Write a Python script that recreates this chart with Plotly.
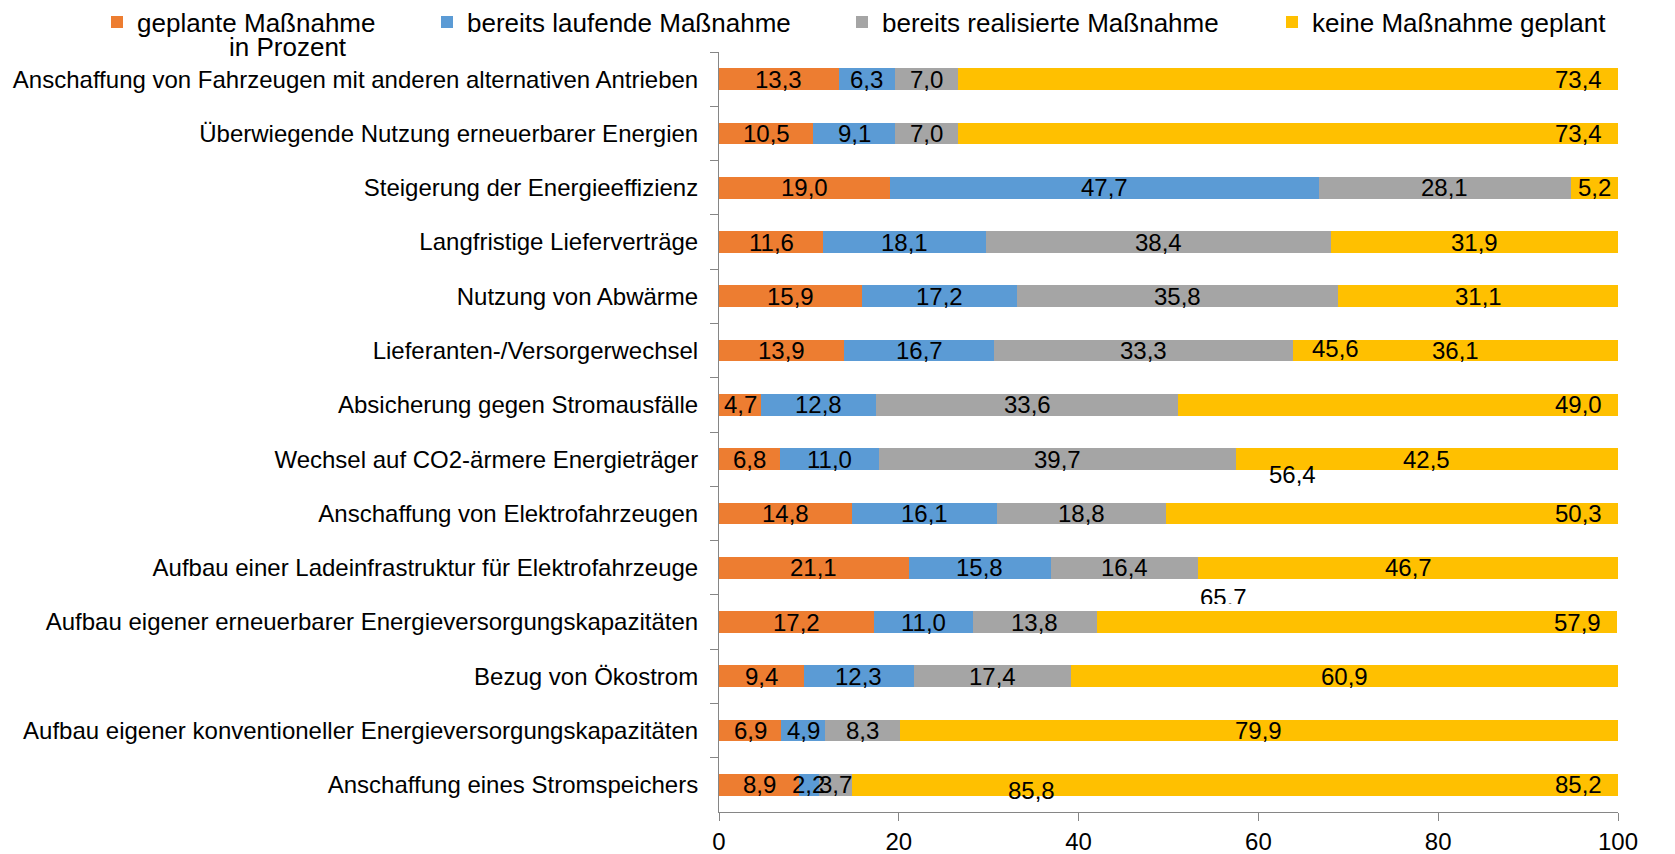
import plotly.graph_objects as go

categories = [
    "Anschaffung von Fahrzeugen mit anderen alternativen Antrieben",
    "Überwiegende Nutzung erneuerbarer Energien",
    "Steigerung der Energieeffizienz",
    "Langfristige Lieferverträge",
    "Nutzung von Abwärme",
    "Lieferanten-/Versorgerwechsel",
    "Absicherung gegen Stromausfälle",
    "Wechsel auf CO2-ärmere Energieträger",
    "Anschaffung von Elektrofahrzeugen",
    "Aufbau einer Ladeinfrastruktur für Elektrofahrzeuge",
    "Aufbau eigener erneuerbarer Energieversorgungskapazitäten",
    "Bezug von Ökostrom",
    "Aufbau eigener konventioneller Energieversorgungskapazitäten",
    "Anschaffung eines Stromspeichers",
]
geplant = [13.3, 10.5, 19.0, 11.6, 15.9, 13.9, 4.7, 6.8, 14.8, 21.1, 17.2, 9.4, 6.9, 8.9]
laufend = [6.3, 9.1, 47.7, 18.1, 17.2, 16.7, 12.8, 11.0, 16.1, 15.8, 11.0, 12.3, 4.9, 2.2]
realisiert = [7.0, 7.0, 28.1, 38.4, 35.8, 33.3, 33.6, 39.7, 18.8, 16.4, 13.8, 17.4, 8.3, 3.7]
keine = [73.4, 73.4, 5.2, 31.9, 31.1, 36.1, 49.0, 42.5, 50.3, 46.7, 57.9, 60.9, 79.9, 85.2]
# label placement of the "keine" segment labels: "end" or "middle"
keine_anchor = ["end", "end", "middle", "middle", "middle", "middle", "end",
                "middle", "end", "middle", "end", "middle", "middle", "end"]
# stray labels visible in the original (text, x value, row position)
stray_text = ["45,6", "56,4", "85,8"]
stray_x = [68.6, 63.8, 34.8]
stray_row = [4.97, 7.29, 13.1]
# partially clipped stray label
clipped_text = ["65,7"]
clipped_x = [56.1]
clipped_row = [9.6]

series_names = ["geplante Maßnahme", "bereits laufende Maßnahme",
                "bereits realisierte Maßnahme", "keine Maßnahme geplant"]
colors = ["#ED7D31", "#5B9BD5", "#A5A5A5", "#FFC000"]
xticks = [0, 20, 40, 60, 80, 100]

FONT = "Liberation Sans, Arial, sans-serif"
W, H = 1675, 854
OFF = 8  # page body margin offset
LABEL_FONT = dict(family=FONT, size=24, color="black")

def fmt(v):
    return f"{v:.1f}".replace(".", ",")

fig = go.Figure()
all_series = [geplant, laufend, realisiert, keine]
legends = ["legend", "legend2", "legend3", "legend4"]
for i, (name, vals, col) in enumerate(zip(series_names, all_series, colors)):
    fig.add_trace(go.Bar(
        y=categories, x=vals, name=name, orientation="h",
        marker=dict(color=col, line=dict(width=0)),
        legend=legends[i], hoverinfo="x+name",
    ))

xmax = xticks[-1]
nrows = len(categories)
annotations = []
for r in range(nrows):
    start = 0.0
    for vals in all_series[:3]:
        v = vals[r]
        annotations.append(dict(x=start + v / 2, y=r, xref="x", yref="y", text=fmt(v),
                                showarrow=False, xanchor="center", font=LABEL_FONT))
        start += v
    v = keine[r]
    if keine_anchor[r] == "end":
        annotations.append(dict(x=min(start + v, xmax), y=r, xref="x", yref="y", text=fmt(v),
                                showarrow=False, xanchor="right", xshift=-14, font=LABEL_FONT))
    else:
        annotations.append(dict(x=start + v / 2, y=r, xref="x", yref="y", text=fmt(v),
                                showarrow=False, xanchor="center", font=LABEL_FONT))
for t, xv, rv in zip(stray_text, stray_x, stray_row):
    annotations.append(dict(x=xv, y=rv, xref="x", yref="y", text=t, showarrow=False,
                            font=LABEL_FONT))

# plot area in screen pixels
L_s, R_s, T_s, B_s = 719, 1618, 52, 812
L, R, T, B = L_s - OFF, R_s - OFF, T_s - OFF, B_s - OFF
pw, ph = R - L, B - T

annotations.append(dict(x=(288 - OFF - L) / pw, y=(B - (47 - OFF)) / ph,
                        xref="paper", yref="paper", text="in Prozent",
                        showarrow=False, xanchor="center", yanchor="middle",
                        font=dict(family=FONT, size=26, color="black")))

# clipped label: drawn in a helper subplot whose lower edge clips the text
clip_line_s = 604
d0 = (B - (clip_line_s - OFF)) / ph
fig.add_trace(go.Scatter(
    x=clipped_x, y=clipped_row, mode="text", text=clipped_text,
    textfont=LABEL_FONT, textposition="middle center",
    xaxis="x", yaxis="y3", cliponaxis=True, showlegend=False, hoverinfo="skip",
))

text_starts = [137, 467, 882, 1312]
layout_legends = {}
for key, ts in zip(legends, text_starts):
    layout_legends[key] = dict(
        orientation="h", xref="container", yref="container",
        x=(ts - OFF - 40) / W, xanchor="left",
        y=1 - (22 - OFF) / H, yanchor="middle",
        font=dict(family=FONT, size=26, color="black"),
        bgcolor="rgba(0,0,0,0)")

fig.update_layout(
    barmode="stack",
    bargap=0.6,
    width=W, height=H,
    margin=dict(l=L, r=W - R, t=T, b=H - B, autoexpand=False),
    plot_bgcolor="rgba(0,0,0,0)", paper_bgcolor="white",
    font=dict(family=FONT, size=24, color="black"),
    showlegend=True,
    annotations=annotations,
    yaxis3=dict(domain=[d0, 1], anchor="x", range=[nrows - 0.5 - d0 * nrows, -0.5],
                visible=False, showgrid=False, zeroline=False),
    **layout_legends,
)
fig.update_xaxes(range=[0, 100], tickvals=xticks, ticktext=[str(t) for t in xticks],
                 showgrid=False, zeroline=False, showline=True, linecolor="#868686",
                 linewidth=1, ticks="outside", ticklen=8, tickcolor="#868686",
                 ticklabelstandoff=0,
                 tickfont=dict(family=FONT, size=24, color="black"))
fig.update_layout(yaxis=dict(autorange="reversed", type="category", showgrid=False,
                             showline=True, linecolor="#868686", linewidth=1,
                             ticks="outside", ticklen=8, tickcolor="#868686",
                             tickson="boundaries", ticklabelstandoff=15,
                             tickfont=dict(family=FONT, size=24, color="black")))

fig.write_html("out.html")
